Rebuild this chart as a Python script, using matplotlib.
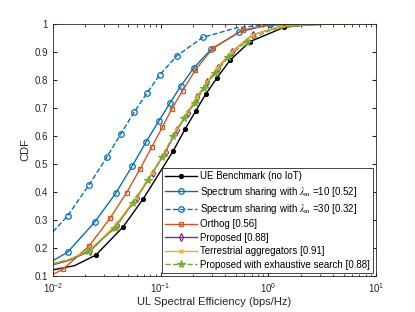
import numpy as np
import matplotlib.pyplot as plt
plt.switch_backend('agg')

# values: log10(x) and CDF; flags say which points carry a marker
bench_lx = [-2.0, -1.8, -1.601, -1.35, -1.161, -0.883, -0.774, -0.675, -0.582, -0.48, -0.357, -0.171, 0.145, 0.35, 0.6, 1.0]
bench_y = [0.122, 0.137, 0.175, 0.275, 0.376, 0.547, 0.624, 0.689, 0.749, 0.806, 0.870, 0.937, 0.988, 0.997, 1.0, 1.0]
bench_mk = '0011111111111000'

ss10_lx = [-2.0, -1.864, -1.61, -1.418, -1.264, -1.139, -1.019, -0.914, -0.812, -0.691, -0.530, -0.273, 0.015, 0.3, 1.0]
ss10_y = [0.155, 0.185, 0.294, 0.395, 0.493, 0.577, 0.652, 0.718, 0.779, 0.844, 0.910, 0.971, 0.999, 1.0, 1.0]
ss10_mk = '011111111111100'

ss30_lx = [-2.0, -1.864, -1.666, -1.501, -1.371, -1.245, -1.130, -1.007, -0.851, -0.610, -0.3, 0.015, 0.3, 1.0]
ss30_y = [0.258, 0.315, 0.425, 0.524, 0.607, 0.686, 0.752, 0.819, 0.886, 0.952, 0.986, 0.999, 1.0, 1.0]
ss30_mk = '01111111110100'

orth_lx = [-2.0, -1.904, -1.663, -1.471, -1.316, -1.192, -1.084, -0.985, -0.898, -0.796, -0.679, -0.517, -0.233, 0.0, 0.3, 0.6, 1.0]
orth_y = [0.106, 0.125, 0.208, 0.306, 0.398, 0.482, 0.560, 0.631, 0.696, 0.762, 0.835, 0.913, 0.979, 0.995, 0.999, 1.0, 1.0]
orth_mk = '01111111111110000'

prop_lx = [-2.0, -1.85, -1.656, -1.409, -1.223, -1.074, -0.954, -0.851, -0.749, -0.660, -0.567, -0.468, -0.338, -0.146, 0.1, 0.4, 0.7, 1.0]
prop_y = [0.140, 0.156, 0.189, 0.282, 0.380, 0.469, 0.544, 0.621, 0.681, 0.740, 0.792, 0.844, 0.901, 0.961, 0.99, 0.998, 1.0, 1.0]
prop_mk = '001111111111110000'

terr_lx = [-2.0, -1.85, -1.66, -1.415, -1.23, -1.08, -0.96, -0.857, -0.755, -0.665, -0.572, -0.473, -0.343, -0.15, 0.1, 0.4, 0.7, 1.0]
terr_y = [0.145, 0.159, 0.192, 0.283, 0.380, 0.469, 0.544, 0.621, 0.681, 0.740, 0.792, 0.844, 0.901, 0.961, 0.99, 0.998, 1.0, 1.0]
terr_mk = '001111111111110000'

exh_lx = [-2.0, -1.85, -1.672, -1.424, -1.254, -1.115, -0.985, -0.883, -0.781, -0.684, -0.598, -0.496, -0.372, -0.201, 0.0, 0.2, 0.5, 0.8, 1.0]
exh_y = [0.143, 0.158, 0.189, 0.270, 0.362, 0.442, 0.526, 0.600, 0.663, 0.717, 0.770, 0.824, 0.881, 0.937, 0.975, 0.992, 0.999, 1.0, 1.0]
exh_mk = '0011111111111100000'

labels = ['UE Benchmark (no IoT)',
          r'Spectrum sharing with $\lambda_{\rm m}$ =10 [0.52]',
          r'Spectrum sharing with $\lambda_{\rm m}$ =30 [0.32]',
          'Orthog [0.56]',
          'Proposed [0.88]',
          'Terrestrial aggregators [0.91]',
          'Proposed with exhaustive search [0.88]']

plt.rcParams['font.family'] = ['Liberation Sans', 'DejaVu Sans']
plt.rcParams['mathtext.fontset'] = 'stix'

fig = plt.figure(figsize=(4.15, 3.12), dpi=100)
ax = fig.add_axes([53 / 415, 36 / 312, 323 / 415, 252 / 312])

series = [
    (bench_lx, bench_y, bench_mk, 'k', '-', 'o', dict(markersize=2.8, markerfacecolor='k')),
    (ss10_lx, ss10_y, ss10_mk, '#0072BD', '-', 'o', dict(markersize=4, markerfacecolor='none')),
    (ss30_lx, ss30_y, ss30_mk, '#0072BD', '--', 'o', dict(markersize=4, markerfacecolor='none')),
    (orth_lx, orth_y, orth_mk, '#D95319', '-', 's', dict(markersize=3.3, markerfacecolor='none')),
    (prop_lx, prop_y, prop_mk, '#7E2F8E', '-', 'd', dict(markersize=4.2, markerfacecolor='none')),
    (terr_lx, terr_y, terr_mk, '#EDB120', '-', 'x', dict(markersize=3)),
    (exh_lx, exh_y, exh_mk, '#77AC30', '--', '*', dict(markersize=5.5, markerfacecolor='#77AC30')),
]

for (lx, y, mk, c, ls, m, kw), lab in zip(series, labels):
    lx = np.array(lx)
    idx = [i for i, f in enumerate(mk) if f == '1']
    ax.plot(10 ** lx, y, color=c, linestyle=ls, marker=m, linewidth=1.0,
            markeredgewidth=0.9, markevery=idx, label=lab, **kw)

ax.set_xscale('log')
ax.set_xlim(1e-2, 10)
ax.set_ylim(0.1, 1.0)
ax.set_yticks(np.arange(0.1, 1.01, 0.1))
ax.set_yticklabels(['0.1', '0.2', '0.3', '0.4', '0.5', '0.6', '0.7', '0.8', '0.9', '1'])
ax.tick_params(which='both', direction='in', top=True, right=True, labelsize=7, colors='#262626')
ax.tick_params(which='major', length=3)
ax.tick_params(which='minor', length=1.8)
for s in ax.spines.values():
    s.set_color('#262626')
    s.set_linewidth(0.6)
ax.set_xlabel('UL Spectral Efficiency (bps/Hz)', fontsize=8, color='#262626', labelpad=2)
ax.set_ylabel('CDF', fontsize=8, color='#262626', labelpad=3)

leg = ax.legend(loc='lower right', fontsize=7, handlelength=3.3, handletextpad=0.3,
                borderpad=0.3, labelspacing=0.35, fancybox=False, framealpha=1,
                edgecolor='#262626', bbox_to_anchor=(1.0, 0.0), borderaxespad=0.35)
leg.get_frame().set_linewidth(0.6)

fig.savefig('out.png', dpi=100)
